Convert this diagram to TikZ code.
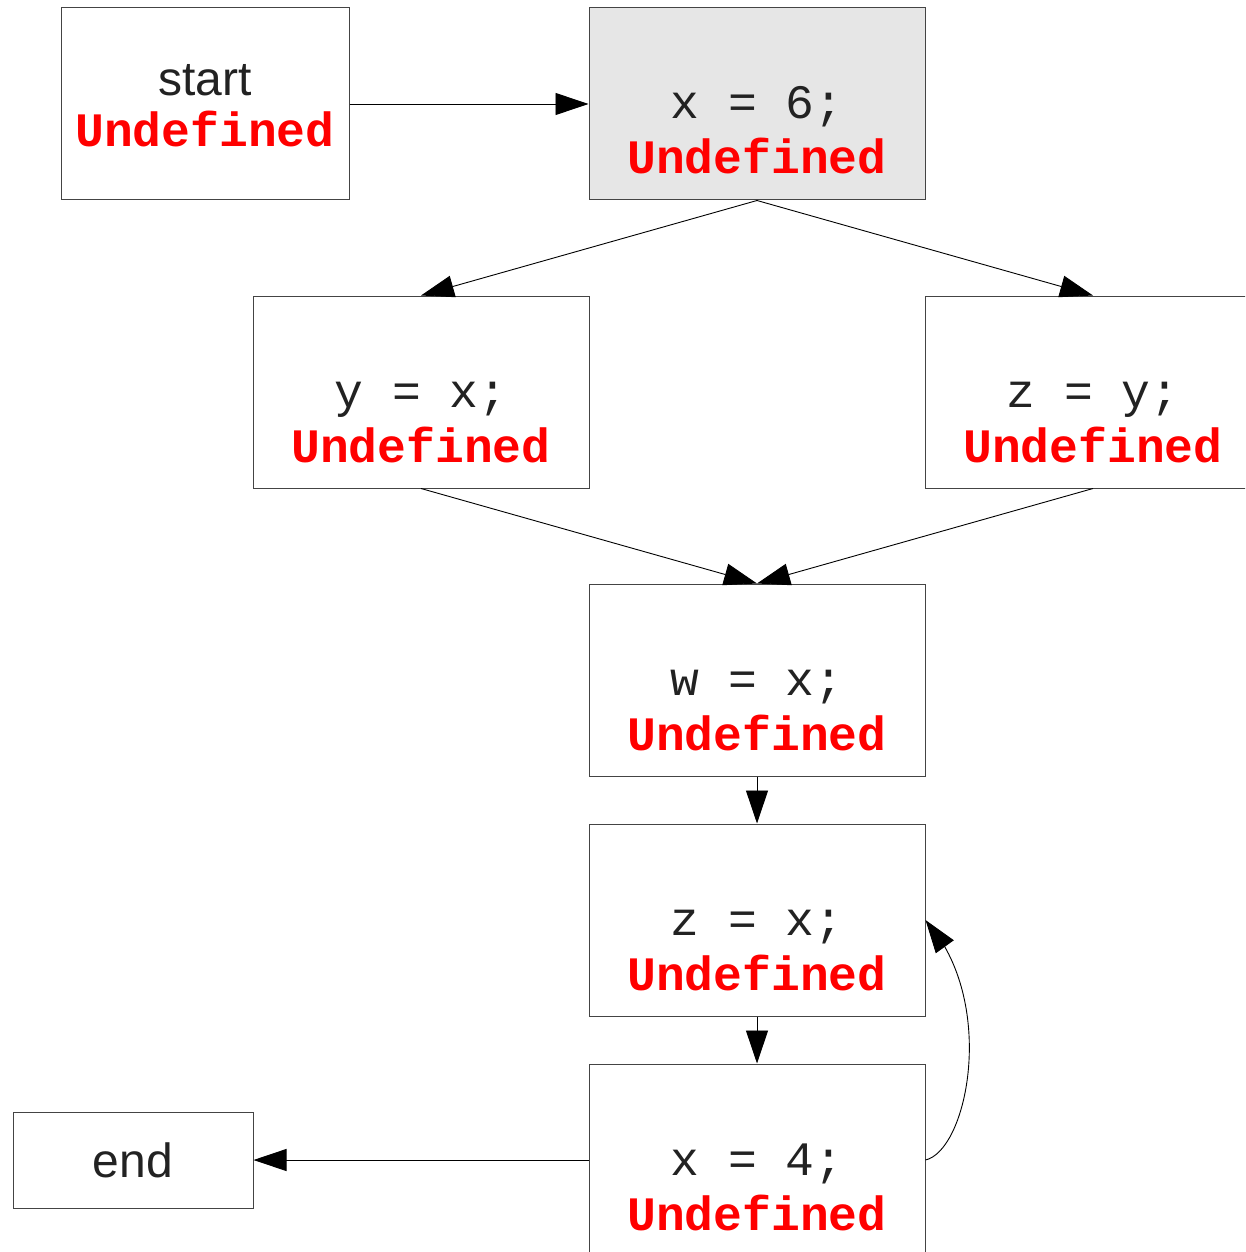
\documentclass[tikz,border=0pt]{standalone}
\usepackage{fontspec}
\setmainfont{Liberation Sans}
\newfontfamily\codefont{Liberation Mono}
\usetikzlibrary{arrows.meta,bending}
\definecolor{boxgray}{HTML}{E6E6E6}
\definecolor{linegray}{HTML}{444444}
\definecolor{txtgray}{HTML}{222222}
\tikzset{
  blk/.style={draw=linegray, line width=1pt, rectangle, inner sep=0pt, minimum width=336pt, minimum height=192pt},
  codetxt/.style={anchor=base, inner sep=0pt, text=txtgray, font=\codefont\fontsize{48}{50}\selectfont},
  undef/.style={anchor=base, inner sep=0pt, text=red, font=\codefont\bfseries\fontsize{48}{50}\selectfont},
  sanstxt/.style={anchor=base, inner sep=0pt, text=txtgray, font=\fontsize{48}{50}\selectfont},
  edge/.style={draw=black, line width=0.9pt, -{Triangle[length=33pt,width=22pt]}}
}
\begin{document}
\begin{tikzpicture}[x=1pt,y=-1pt]
\useasboundingbox (0,0) rectangle (1245,1252);
\begin{scope}
\clip (0,0) rectangle (1245,1252);
% boxes
\node[blk, minimum width=288pt] (start) at (205,104) {};
\node[blk, fill=boxgray] (x6) at (757,104) {};
\node[blk] (yx) at (421,392) {};
\node[blk] (zy) at (1093,392) {};
\node[blk] (wx) at (757,680) {};
\node[blk] (zx) at (757,920) {};
\node[blk] (x4) at (757,1160) {};
\node[blk, minimum width=240pt, minimum height=96pt] (end) at (133,1160) {};
% texts
\node[sanstxt] (t0a) at (205,96) {start};
\node[undef] (t0b) at (205,147) {Undefined};
\node[codetxt] (t1a) at (757,119) {x = 6;};
\node[undef] (t1b) at (757,174) {Undefined};
\node[codetxt] (t2a) at (421,407) {y = x;};
\node[undef] (t2b) at (421,462) {Undefined};
\node[codetxt] (t3a) at (1093,407) {z = y;};
\node[undef] (t3b) at (1093,462) {Undefined};
\node[codetxt] (t4a) at (757,695) {w = x;};
\node[undef] (t4b) at (757,750) {Undefined};
\node[codetxt] (t5a) at (757,935) {z = x;};
\node[undef] (t5b) at (757,990) {Undefined};
\node[codetxt] (t6a) at (757,1175) {x = 4;};
\node[undef] (t6b) at (757,1230) {Undefined};
\node[sanstxt] (t7) at (133,1177) {end};
% edges
\draw[edge] (start.east) -- (x6.west);
\draw[edge] (x6.south) -- (yx.north);
\draw[edge] (x6.south) -- (zy.north);
\draw[edge] (yx.south) -- (wx.north);
\draw[edge] (zy.south) -- (wx.north);
\draw[edge] (wx.south) -- (zx.north);
\draw[edge] (zx.south) -- (x4.north);
\draw[edge] (x4.west) -- (end.east);
\draw[edge] (x4.east) .. controls (968,1150) and (998,1000) .. (zx.east);
\end{scope}
\end{tikzpicture}
\end{document}
